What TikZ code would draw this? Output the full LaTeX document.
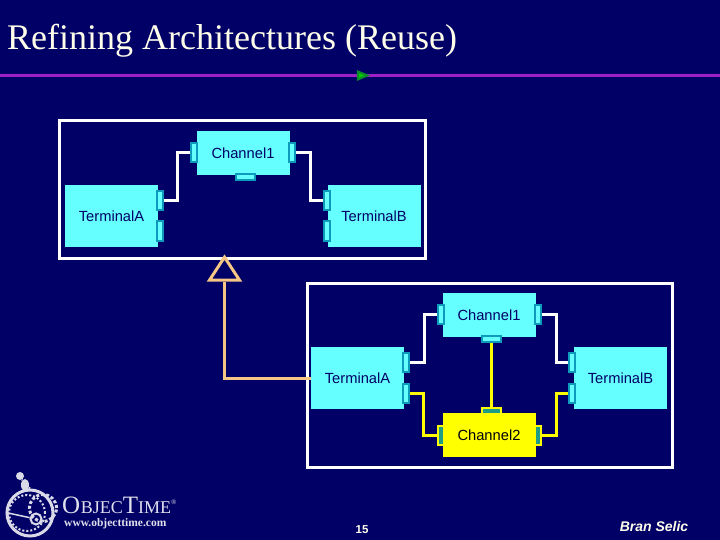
\documentclass[tikz,border=0pt]{standalone}
\usepackage{xcolor}
\usepackage{fontspec}
\setmainfont{Liberation Serif}
\setsansfont{Liberation Sans}
\usetikzlibrary{shapes.geometric}
\definecolor{otnavy}{HTML}{000066}
\definecolor{otcyan}{HTML}{66FFFF}
\definecolor{otport}{HTML}{0E9BBB}
\definecolor{otyellow}{HTML}{FFFF00}
\definecolor{otteal}{HTML}{1F9C86}
\definecolor{otorange}{HTML}{F6C685}
\definecolor{otpurple}{HTML}{A020C8}
\definecolor{otgreen}{HTML}{0A8A2A}
\tikzset{
  capsule/.style={fill=otcyan,minimum width=93pt,minimum height=44pt,inner sep=0pt,
    text=otnavy,font=\sffamily\fontsize{14.7}{17}\selectfont},
  terminal/.style={capsule,minimum height=62pt},
  vport/.style={draw=otport,line width=2pt,fill=otcyan,minimum width=6pt,minimum height=19pt,inner sep=0pt},
  hport/.style={draw=otport,line width=2pt,fill=otcyan,minimum width=19pt,minimum height=6pt,inner sep=0pt},
  yvport/.style={vport,draw=otyellow,fill=otteal},
  yhport/.style={hport,draw=otyellow,fill=otteal},
  frame/.style={draw=white,line width=3pt,fill=none},
  wire/.style={draw=white,line width=3pt},
  ywire/.style={draw=otyellow,line width=3pt},
  logo/.style={draw=white!85!otnavy,fill=none}
}
\begin{document}
\begin{tikzpicture}[x=1pt,y=-1pt]
  \useasboundingbox (0,0) rectangle (720,540);
  \fill[otnavy] (0,0) rectangle (720,540);
  \node[anchor=west,text=white!92!yellow,inner sep=0pt,font=\fontsize{36}{40}\selectfont] (title) at (7,41)
    {Refining Architectures (Reuse)};
  \node[draw=none,minimum width=720pt,minimum height=0pt,inner sep=0pt] (rule) at (360,75.5) {};
  \draw[otpurple,line width=3pt] (rule.west) -- (rule.east);
  \node[isosceles triangle,draw=otgreen,fill=green!80!black,line width=2pt,inner sep=0pt,
    minimum size=8pt] (marker) at (360.5,75.5) {};

  % upper collaboration
  \node[frame,minimum width=366pt,minimum height=138pt,inner sep=0pt] (upper) at (242.5,189.5) {};
  \node[capsule] (chan) at (243,153) {Channel1};
  \node[terminal] (terma) at (111.5,216) {TerminalA};
  \node[terminal] (termb) at (374,216) {TerminalB};
  \node[vport] (chanl) at (193.5,153) {};
  \node[vport] (chanr) at (291.5,153) {};
  \node[hport] (chanb) at (245,177) {};
  \node[vport] (tap) at (160,200.5) {};
  \node[vport] (taq) at (160,231) {};
  \node[vport] (tbp) at (326.5,200.5) {};
  \node[vport] (tbq) at (326.5,231) {};
  \draw[wire] (tap.east) -- ++(13,0) |- (chanl.west);
  \draw[wire] (chanr.east) -- ++(15,0) |- (tbp.west);

  % lower collaboration
  \node[frame,minimum width=365pt,minimum height=184pt,inner sep=0pt] (lower) at (489.5,375.5) {};
  \node[capsule] (chanx) at (489,315) {Channel1};
  \node[capsule,fill=otyellow,text=black!85!otnavy] (chany) at (489,435) {Channel2};
  \node[terminal] (termc) at (357.5,378) {TerminalA};
  \node[terminal] (termd) at (620.5,378) {TerminalB};
  \node[vport] (chanxl) at (441,314.5) {};
  \node[vport] (chanxr) at (537.5,314.5) {};
  \node[hport] (chanxb) at (491.5,339) {};
  \node[yvport] (chanyl) at (441,435) {};
  \node[yvport] (chanyr) at (537.5,435) {};
  \node[yhport] (chanyt) at (491.5,411) {};
  \node[vport] (tcp) at (405.5,362.5) {};
  \node[vport] (tcq) at (405.5,393) {};
  \node[vport] (tdp) at (571.5,362.5) {};
  \node[vport] (tdq) at (571.5,393) {};
  \draw[wire] (tcp.east) -- ++(15,0) |- (chanxl.west);
  \draw[wire] (chanxr.east) -- ++(15,0) |- (tdp.west);
  \draw[ywire] (tcq.east) -- ++(14,0) |- (chanyl.west);
  \draw[ywire] (chanyr.east) -- ++(15,0) |- (tdq.west);
  \draw[ywire] (chanxb.south) -- (chanyt.north);

  % refinement arrow
  \node[isosceles triangle,isosceles triangle apex angle=66,isosceles triangle stretches,shape border rotate=90,
    draw=otorange,line width=3pt,minimum height=23pt,minimum width=30pt,inner sep=0pt] (refine) at (224.5,272) {};
  \draw[otorange,line width=3pt] (refine.lower side) |- (termc.west);

  % footer
  \node[logo,circle,line width=3pt,minimum size=46pt,inner sep=0pt] (dial) at (30,513) {};
  \node[logo,circle,line width=2pt,dash pattern=on 2pt off 2pt,minimum size=36pt,inner sep=0pt] (numerals) at (27,513) {};
  \node[logo,circle,line width=3pt,dash pattern=on 3pt off 2pt,minimum size=27pt,inner sep=0pt] (gear) at (43,508) {};
  \node[logo,circle,line width=2pt,minimum size=11pt,inner sep=0pt] (hub) at (36,519) {};
  \node[circle,fill=white!85!otnavy,minimum size=8pt,inner sep=0pt] (rider) at (20,476) {};
  \node[ellipse,fill=white!85!otnavy,minimum width=8pt,minimum height=12pt,inner sep=0pt] (body) at (25,485) {};
  \draw[logo,line width=2pt] (rider) -- (body) -- (dial.north);
  \draw[logo,line width=1.5pt] (hub) -- (numerals.west);
  \node[anchor=west,text=white!88!otnavy,inner sep=0pt,font=\fontsize{25}{27}\selectfont] (brand) at (62,505)
    {O\kern.5pt{\fontsize{18}{20}\selectfont BJEC}T{\fontsize{18}{20}\selectfont IME}\raisebox{9pt}{\fontsize{7}{8}\selectfont\textregistered}};
  \node[anchor=west,text=white!88!otnavy,inner sep=0pt,font=\bfseries\fontsize{11.5}{13}\selectfont] (site) at (64,524)
    {www.objecttime.com};
  \node[text=white!92!yellow,font=\sffamily\bfseries\fontsize{11.5}{13}\selectfont,inner sep=0pt] (page) at (362,530) {15};
  \node[text=white!92!yellow,font=\sffamily\bfseries\itshape\fontsize{14}{16}\selectfont,inner sep=0pt] (author) at (654,526) {Bran Selic};
\end{tikzpicture}
\end{document}
